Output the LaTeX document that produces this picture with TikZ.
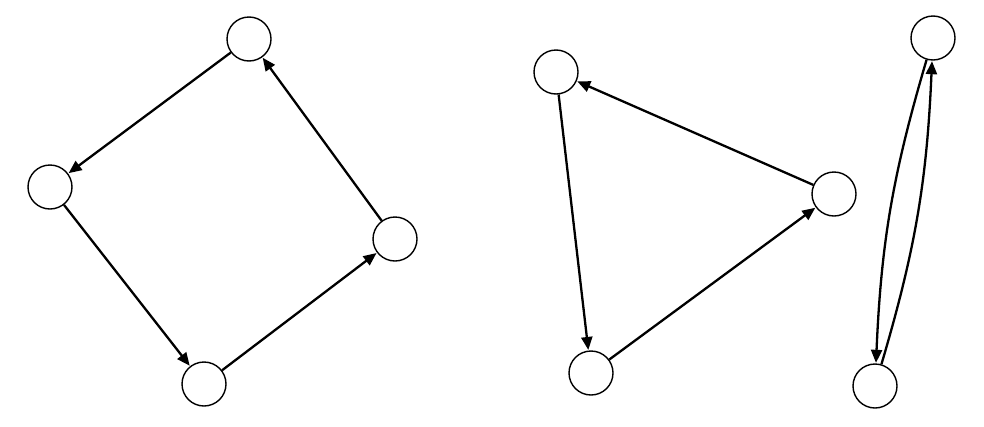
\documentclass[tikz,border=0pt]{standalone}
\usetikzlibrary{arrows.meta}
\begin{document}
\begin{tikzpicture}[x=1pt,y=-1pt,
  vtx/.style={circle,draw=black,line width=1.4pt,minimum size=44pt,inner sep=0pt,fill=white},
  edge/.style={line width=2.3pt,-{Triangle[length=13pt,width=11pt]},shorten >=0.5pt}]
\useasboundingbox (0,0) rectangle (984,426);
\node[vtx] (A) at (249,39) {};
\node[vtx] (B) at (50,187) {};
\node[vtx] (C) at (395,239) {};
\node[vtx] (D) at (204,384) {};
\node[vtx] (E) at (556,72) {};
\node[vtx] (F) at (834,194) {};
\node[vtx] (G) at (591,373) {};
\node[vtx] (H) at (933,38) {};
\node[vtx] (I) at (875,386) {};
\draw[edge] (A) -- (B);
\draw[edge] (B) -- (D);
\draw[edge] (D) -- (C);
\draw[edge] (C) -- (A);
\draw[edge] (E) -- (G);
\draw[edge] (G) -- (F);
\draw[edge] (F) -- (E);
\draw[edge] (H) to[bend right=7] (I);
\draw[edge] (I) to[bend right=7] (H);
\end{tikzpicture}
\end{document}
